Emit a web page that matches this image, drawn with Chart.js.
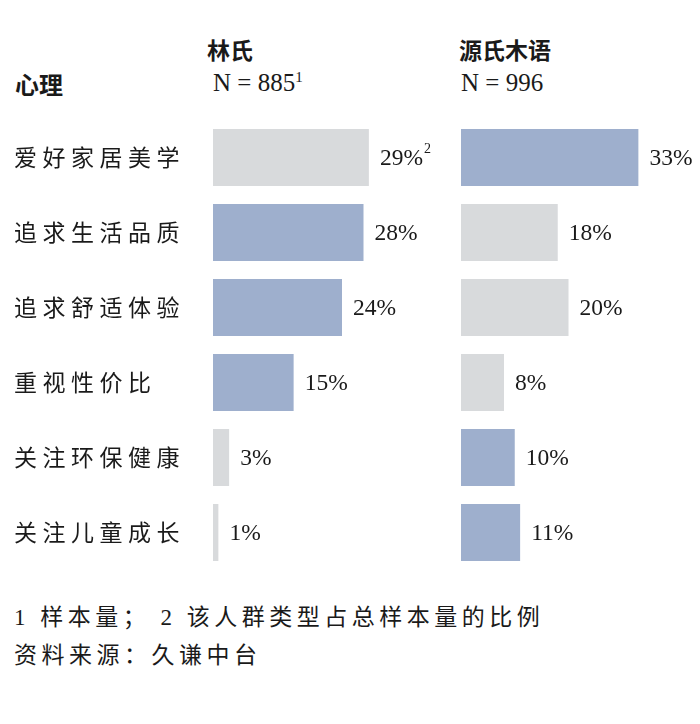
<!DOCTYPE html>
<html>
<head>
<meta charset="utf-8">
<script src="https://cdn.jsdelivr.net/npm/chart.js@4"></script>
<style>
  body { margin: 0; background: #fff; width: 700px; height: 724px; position: relative; overflow: hidden; }
  .t { position: absolute; white-space: nowrap; color: #1a1a1a; line-height: 1; }
  .head { font: bold 23px "Noto Sans CJK SC", sans-serif; }
  .n { font: 25px "Liberation Serif", serif; }
  .n sup { font-size: 15px; vertical-align: 9px; }
  .foot { font: 23px "Liberation Serif", "Noto Sans CJK SC", serif; letter-spacing: 4.5px; }
  canvas { position: absolute; }
</style>
</head>
<body>
<div class="t head" style="left:15px;top:66px;font-size:24px">心理</div>
<div class="t head" id="g0" style="left:207px;top:32px"></div>
<div class="t head" id="g1" style="left:459px;top:32px"></div>
<div class="t n" id="n0" style="left:213px;top:69px"></div>
<div class="t n" id="n1" style="left:461px;top:69px"></div>
<div class="t foot" style="left:14px;top:598px">1 样本量； 2 该人群类型占总样本量的比例</div>
<div class="t foot" style="left:14px;top:636px">资料来源：久谦中台</div>

<div style="position:absolute;left:0;top:120px;width:460px;height:450px"><canvas id="left"></canvas></div>
<div style="position:absolute;left:461px;top:120px;width:239px;height:450px"><canvas id="right"></canvas></div>

<script>
const categories = ["爱好家居美学", "追求生活品质", "追求舒适体验", "重视性价比", "关注环保健康", "关注儿童成长"];
const groups = ["林氏", "源氏木语"];
const sampleSizes = [885, 996];
const linValues = [29, 28, 24, 15, 3, 1];
const yuanValues = [33, 18, 20, 8, 10, 11];
const linNotes = ["2", "", "", "", "", ""];

const BLUE = "#9eafcd";
const GREY = "#d8dadc";

document.getElementById("g0").textContent = groups[0];
document.getElementById("g1").textContent = groups[1];
document.getElementById("n0").innerHTML = "N = " + sampleSizes[0] + "<sup>1</sup>";
document.getElementById("n1").innerHTML = "N = " + sampleSizes[1];

// the bigger value of each row is drawn blue
const linColors = linValues.map((v, i) => (v > yuanValues[i] ? BLUE : GREY));
const yuanColors = yuanValues.map((v, i) => (v > linValues[i] ? BLUE : GREY));

const spacing = {
  id: "spacing",
  beforeDraw(chart) {
    chart.ctx.letterSpacing = "5.5px";
  }
};

const valueLabels = {
  id: "valueLabels",
  afterDatasetsDraw(chart, args, opts) {
    const ctx = chart.ctx;
    const meta = chart.getDatasetMeta(0);
    const values = chart.data.datasets[0].data;
    ctx.save();
    ctx.letterSpacing = "0px";
    ctx.fillStyle = "#1a1a1a";
    ctx.textBaseline = "middle";
    ctx.textAlign = "left";
    meta.data.forEach((bar, i) => {
      const txt = values[i] + "%";
      const x = bar.x + 11;
      ctx.font = '23.5px "Liberation Serif", serif';
      ctx.fillText(txt, x, bar.y + 1);
      const note = (opts.notes || [])[i];
      if (note) {
        const w = ctx.measureText(txt).width;
        ctx.font = '14px "Liberation Serif", serif';
        ctx.fillText(note, x + w + 1, bar.y - 8);
      }
    });
    ctx.restore();
  }
};

function makeChart(id, values, colors, withLabels, notes) {
  return new Chart(document.getElementById(id), {
    type: "bar",
    data: {
      labels: categories,
      datasets: [{
        data: values,
        backgroundColor: colors,
        borderWidth: 0,
        categoryPercentage: 1,
        barPercentage: 0.76
      }]
    },
    options: {
      indexAxis: "y",
      responsive: true,
      maintainAspectRatio: false,
      animation: false,
      layout: { padding: { left: withLabels ? 14 : 0, right: withLabels ? 32 : 24, top: 0, bottom: 0 } },
      scales: {
        x: { display: false, min: 0, max: 40 },
        y: {
          display: withLabels,
          grid: { display: false },
          border: { display: false },
          ticks: {
            crossAlign: "far",
            color: "#1a1a1a",
            font: { family: '"Noto Sans CJK SC", sans-serif', size: 23 }
          },
          afterFit(scale) {
            if (!withLabels) return;
            scale.width = 199;
            scale.paddingTop = 0;
            scale.paddingBottom = 0;
          }
        }
      },
      plugins: {
        legend: { display: false },
        tooltip: { enabled: false },
        valueLabels: { notes: notes }
      }
    },
    plugins: [spacing, valueLabels]
  });
}

makeChart("left", linValues, linColors, true, linNotes);
makeChart("right", yuanValues, yuanColors, false, []);
</script>
</body>
</html>
